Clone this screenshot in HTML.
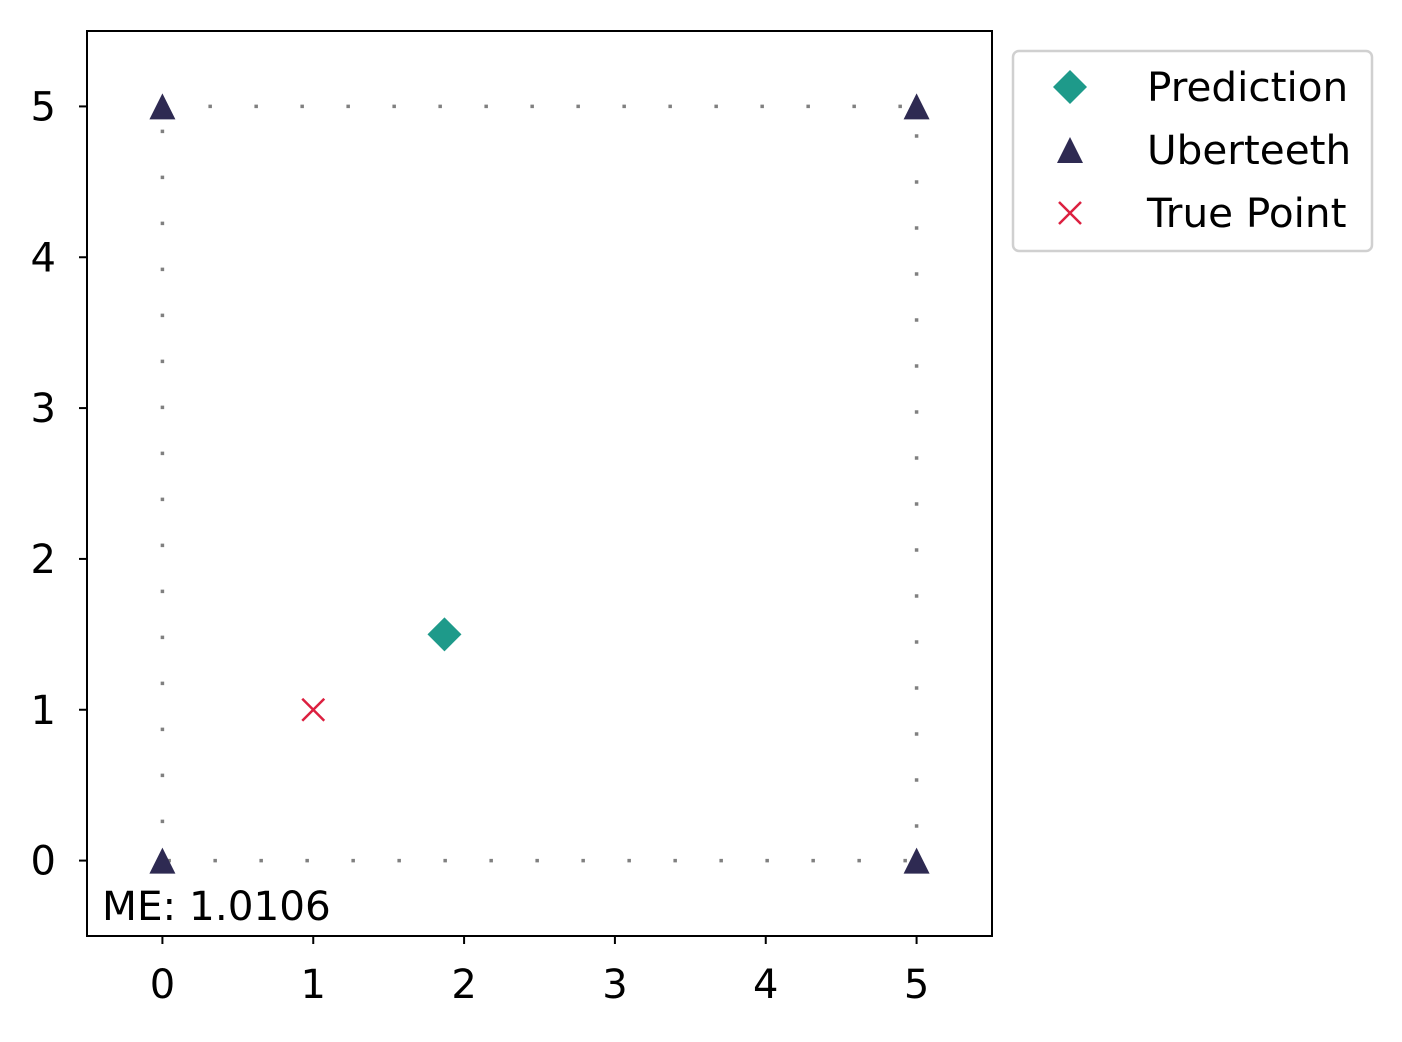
<!DOCTYPE html>
<html><head><meta charset="utf-8"><style>
body{margin:0;background:#fff}
svg text{font-family:"DejaVu Sans","Liberation Sans",sans-serif;fill:#000}
</style></head><body>
<svg width="1402" height="1037" xmlns="http://www.w3.org/2000/svg">
<g id="plot"></g>
</svg>
<script>
const xTicks=[0,1,2,3,4,5];
const yTicks=[0,1,2,3,4,5];
const uberX=[0,5,5,0];
const uberY=[5,5,0,0];
const predX=[1.87];
const predY=[1.5];
const trueX=[1];
const trueY=[1];
const meText="ME: 1.0106";
const L=87,R=992,T=31,B=936,xmin=-0.5,xmax=5.5,ymin=-0.5,ymax=5.5;
const sx=v=>L+(v-xmin)/(xmax-xmin)*(R-L);
const sy=v=>B-(v-ymin)/(ymax-ymin)*(B-T);
const g=document.getElementById('plot');
const NS='http://www.w3.org/2000/svg';
function mk(t,a){const e=document.createElementNS(NS,t);for(const k in a)e.setAttribute(k,a[k]);g.appendChild(e);return e;}
let pts=uberX.map((x,i)=>sx(x)+','+sy(uberY[i])).join(' ');
let sq=mk('polygon',{points:pts,fill:'none',stroke:'#808080','stroke-width':3.5,'stroke-dasharray':'3.5,42.5'});


let fr=mk('rect',{x:L,y:T,width:R-L,height:B-T,fill:'none',stroke:'#000','stroke-width':2});


xTicks.forEach(v=>{
 const x=sx(v);
 const t=mk('line',{x1:x,x2:x,y1:B,y2:B+8,stroke:'#000','stroke-width':2});
 
 
 const l=mk('text',{x:x,y:B+62,'font-size':40,'text-anchor':'middle'});l.textContent=v;
 
 
});
yTicks.forEach(v=>{
 const y=sy(v);
 const t=mk('line',{x1:L-8,x2:L,y1:y,y2:y,stroke:'#000','stroke-width':2});
 
 
 const l=mk('text',{x:L-31,y:y+14,'font-size':40,'text-anchor':'end'});l.textContent=v;
 
 
});
function tri(cx,cy,s){return mk('polygon',{points:`${cx},${cy-s} ${cx-s},${cy+s} ${cx+s},${cy+s}`,fill:'#2e2a52'});}
function dia(cx,cy,s){return mk('polygon',{points:`${cx},${cy-s} ${cx+s},${cy} ${cx},${cy+s} ${cx-s},${cy}`,fill:'#1e9a8a'});}
function cross(cx,cy,s){return mk('path',{d:`M${cx-s},${cy-s}L${cx+s},${cy+s}M${cx-s},${cy+s}L${cx+s},${cy-s}`,stroke:'#dc2040','stroke-width':2.5,fill:'none'});}
uberX.forEach((x,i)=>{const e=tri(sx(x),sy(uberY[i]),13);
 
 });
predX.forEach((x,i)=>{const e=dia(sx(x),sy(predY[i]),17);
 
 });
trueX.forEach((x,i)=>{const e=cross(sx(x),sy(trueY[i]),11);
 
 });
const me=mk('text',{x:102,y:920,'font-size':40.5});me.textContent=meText;


const lb=mk('rect',{x:1013,y:51,width:359,height:200,rx:6,fill:'#fff',stroke:'#d0d0d0','stroke-width':2.5});


const labels=['Prediction','Uberteeth','True Point'];
const ly=[87,150,213];
let e=dia(1070,87,17);
e=tri(1070,150,13);
e=cross(1070,213,11);
labels.forEach((s,i)=>{const t=mk('text',{x:1147,y:ly[i]+14,'font-size':40.5});t.textContent=s;
 
 });
</script>
</body></html>
